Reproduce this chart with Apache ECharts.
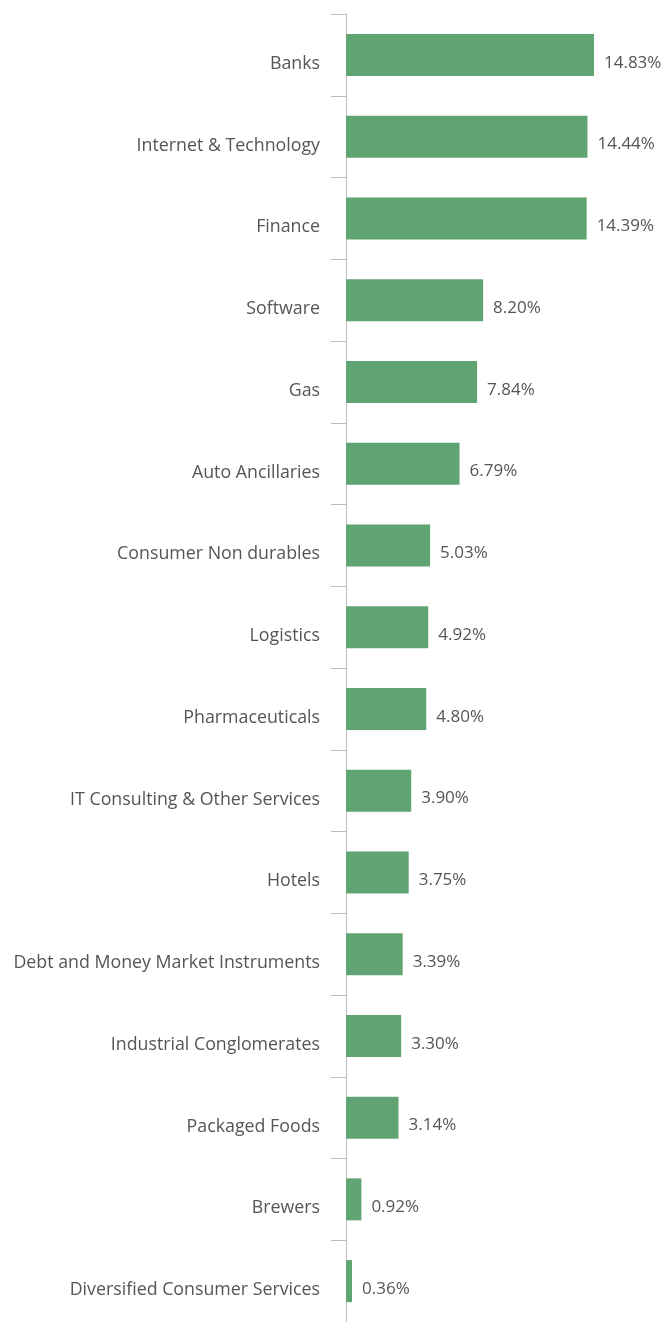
<!DOCTYPE html>
<html><head><meta charset="utf-8">
<script src="https://cdn.jsdelivr.net/npm/echarts@6/dist/echarts.min.js"></script>
<style>html,body{margin:0;padding:0;background:#fff}#c{width:667px;height:1322px}</style>
</head><body><div id="c"></div>
<script>
const categories = ["Banks","Internet & Technology","Finance","Software","Gas","Auto Ancillaries","Consumer Non durables","Logistics","Pharmaceuticals","IT Consulting & Other Services","Hotels","Debt and Money Market Instruments","Industrial Conglomerates","Packaged Foods","Brewers","Diversified Consumer Services"];
const values = [14.83,14.44,14.39,8.20,7.84,6.79,5.03,4.92,4.80,3.90,3.75,3.39,3.30,3.14,0.92,0.36];
const chart = echarts.init(document.getElementById('c'));
chart.setOption({
  animation:false,
  grid:{left:346,right:20,top:14,bottom:-3,containLabel:false},
  xAxis:{type:'value',min:0,max:18,show:false},
  yAxis:{type:'category',data:categories,inverse:true,
    axisLine:{show:true,lineStyle:{color:'#bdbdbd',width:1}},
    axisTick:{show:true,length:15,alignWithLabel:false,lineStyle:{color:'#bdbdbd'}},
    axisLabel:{margin:26,color:'#555',fontSize:17.8,fontFamily:'Open Sans',verticalAlign:'top'}},
  series:[{type:'bar',data:values,barWidth:42,itemStyle:{color:'#60a473'},
    label:{show:true,position:'right',distance:10,offset:[0,8],color:'#555',fontSize:17,fontFamily:'Open Sans',
      formatter:p=>p.value.toFixed(2)+'%'}}]
});
</script></body></html>
